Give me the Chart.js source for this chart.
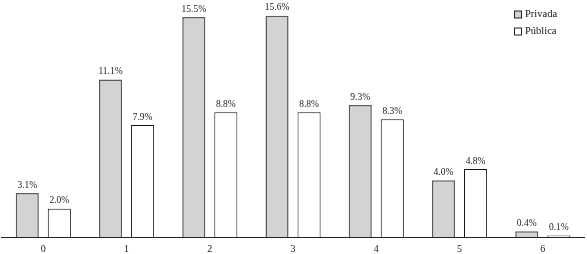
<!DOCTYPE html>
<html>
<head>
<meta charset="utf-8">
<script src="https://cdn.jsdelivr.net/npm/chart.js@4/dist/chart.umd.min.js"></script>
<style>
html,body{margin:0;padding:0;background:#fff;}
#wrap{width:587px;height:254px;position:relative;}
</style>
</head>
<body>
<div id="wrap"><canvas id="c"></canvas></div>
<script>
const categories = ['0','1','2','3','4','5','6'];
const privada = [3.1, 11.1, 15.5, 15.6, 9.3, 4.0, 0.4];
const publica = [2.0, 7.9, 8.8, 8.8, 8.3, 4.8, 0.1];
const seriesNames = ['Privada', 'Pública'];

const SERIF = '"Liberation Serif", "Times New Roman", serif';

const valueLabels = {
  id: 'valueLabels',
  afterDatasetsDraw(chart) {
    const ctx = chart.ctx;
    ctx.save();
    ctx.font = '9.5px ' + SERIF;
    ctx.fillStyle = '#222';
    ctx.textAlign = 'center';
    ctx.textBaseline = 'bottom';
    chart.data.datasets.forEach((ds, i) => {
      const meta = chart.getDatasetMeta(i);
      meta.data.forEach((bar, j) => {
        ctx.fillText(ds.data[j].toFixed(1) + '%', bar.x, bar.y - 3);
      });
    });
    ctx.restore();
  }
};

const customLegend = {
  id: 'customLegend',
  afterDraw(chart) {
    const ctx = chart.ctx;
    ctx.save();
    ctx.font = '10.5px ' + SERIF;
    ctx.textBaseline = 'middle';
    ctx.textAlign = 'left';
    chart.data.datasets.forEach((ds, i) => {
      const cy = 14.5 + i * 17;
      ctx.fillStyle = ds.backgroundColor;
      ctx.fillRect(514.5, cy - 3.5, 7, 7);
      ctx.strokeStyle = '#222';
      ctx.lineWidth = 1;
      ctx.strokeRect(514.5, cy - 3.5, 7, 7);
      ctx.fillStyle = '#111';
      ctx.fillText(ds.label, 525, cy);
    });
    ctx.restore();
  }
};

new Chart(document.getElementById('c'), {
  type: 'bar',
  data: {
    labels: categories,
    datasets: [
      { label: seriesNames[0], data: privada, backgroundColor: '#d3d3d3', borderColor: '#5a5a5a', borderWidth: 1.5 },
      { label: seriesNames[1], data: publica, backgroundColor: '#ffffff', borderColor: '#111111', borderWidth: 1 }
    ]
  },
  options: {
    responsive: true,
    maintainAspectRatio: false,
    animation: false,
    devicePixelRatio: 1,
    layout: { padding: { left: 1.7, right: 2.6, top: 10, bottom: -7 } },
    categoryPercentage: 0.77,
    barPercentage: 0.72,
    plugins: { legend: { display: false }, tooltip: { enabled: false } },
    scales: {
      x: {
        grid: { display: false, drawTicks: false },
        border: { display: true, color: '#222', width: 1 },
        ticks: { color: '#222', font: { family: SERIF, size: 10 }, padding: 6 }
      },
      y: {
        display: false,
        min: 0,
        max: 16
      }
    }
  },
  plugins: [valueLabels, customLegend]
});
</script>
</body>
</html>
